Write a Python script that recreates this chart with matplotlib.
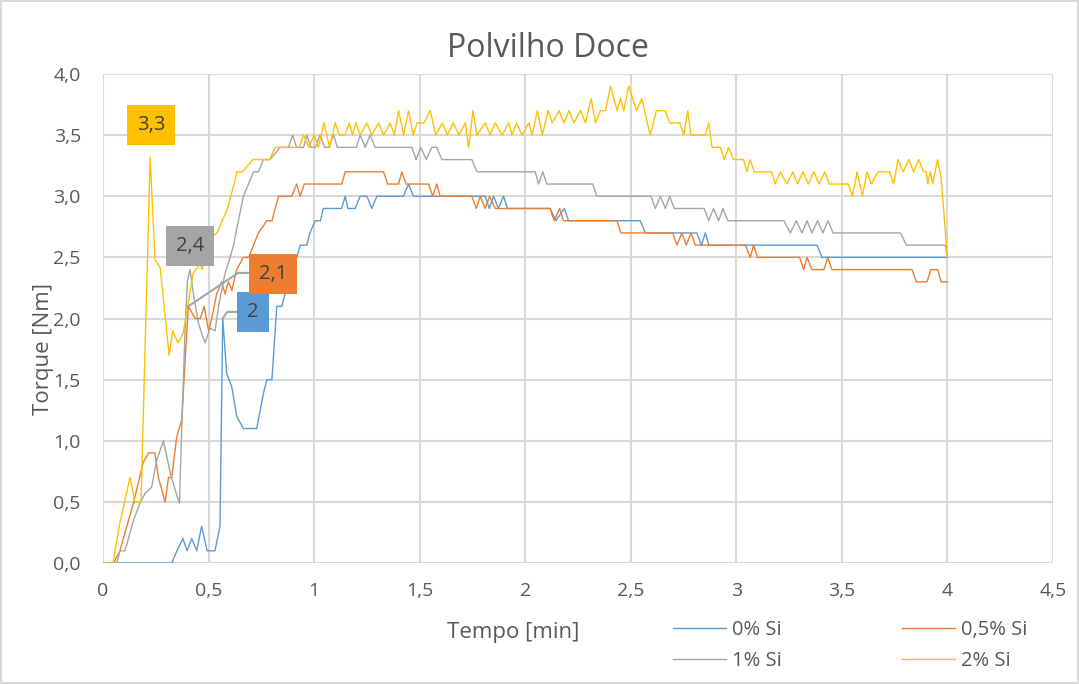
import matplotlib.pyplot as plt
from matplotlib.ticker import FuncFormatter, MultipleLocator

# (tempo [min], torque [Nm])
si_0 = [(0, 0), (0.326, 0), (0.35, 0.1), (0.378, 0.2), (0.398, 0.1), (0.42, 0.2), (0.444, 0.1),
        (0.467, 0.3), (0.493, 0.1), (0.53, 0.1), (0.554, 0.3), (0.567, 2.0), (0.586, 1.55),
        (0.61, 1.44), (0.633, 1.2), (0.665, 1.1), (0.728, 1.1), (0.76, 1.39), (0.776, 1.5),
        (0.80, 1.5), (0.823, 2.1), (0.847, 2.1), (0.862, 2.2), (0.885, 2.3), (0.90, 2.4),
        (0.918, 2.5), (0.934, 2.6), (0.965, 2.6), (0.98, 2.7), (1.005, 2.8), (1.03, 2.8),
        (1.043, 2.9), (1.13, 2.9), (1.147, 3.0), (1.16, 2.9), (1.194, 2.9), (1.218, 3.0),
        (1.25, 3.0), (1.273, 2.9), (1.297, 3.0), (1.423, 3.0), (1.447, 3.1), (1.47, 3.0),
        (1.81, 3.0), (1.83, 2.9), (1.85, 3.0), (1.873, 2.9), (1.897, 3.0), (1.916, 2.9),
        (2.118, 2.9), (2.145, 2.8), (2.185, 2.9), (2.205, 2.8), (2.545, 2.8), (2.569, 2.7),
        (2.813, 2.7), (2.835, 2.6), (2.853, 2.7), (2.87, 2.6), (3.382, 2.6), (3.406, 2.5),
        (4.0, 2.5)]

si_05 = [(0, 0), (0.05, 0), (0.08, 0.1), (0.144, 0.49), (0.19, 0.82), (0.215, 0.9), (0.246, 0.9),
         (0.262, 0.7), (0.294, 0.5), (0.31, 0.7), (0.325, 0.7), (0.349, 1.03), (0.373, 1.17),
         (0.389, 1.66), (0.404, 2.1), (0.436, 2.0), (0.46, 2.0), (0.479, 2.1), (0.5, 1.9),
         (0.515, 2.0), (0.538, 2.2), (0.562, 2.3), (0.578, 2.2), (0.594, 2.3), (0.61, 2.23),
         (0.633, 2.4), (0.665, 2.5), (0.69, 2.5), (0.713, 2.6), (0.736, 2.7), (0.776, 2.8),
         (0.80, 2.8), (0.831, 3.0), (0.894, 3.0), (0.917, 3.1), (0.934, 3.0), (0.953, 3.1),
         (1.131, 3.1), (1.147, 3.2), (1.329, 3.2), (1.348, 3.1), (1.40, 3.1), (1.415, 3.2),
         (1.436, 3.1), (1.542, 3.1), (1.562, 3.0), (1.581, 3.1), (1.597, 3.0), (1.747, 3.0),
         (1.768, 2.9), (1.787, 3.0), (1.81, 2.9), (1.831, 3.0), (1.858, 2.9), (2.118, 2.9),
         (2.137, 2.8), (2.163, 2.9), (2.181, 2.8), (2.434, 2.8), (2.453, 2.7), (2.699, 2.7),
         (2.718, 2.6), (2.742, 2.7), (2.763, 2.6), (2.785, 2.7), (2.806, 2.6), (3.043, 2.6),
         (3.066, 2.5), (3.082, 2.6), (3.10, 2.5), (3.30, 2.5), (3.319, 2.4), (3.335, 2.5),
         (3.358, 2.4), (3.415, 2.4), (3.433, 2.5), (3.453, 2.4), (3.832, 2.4), (3.853, 2.3),
         (3.903, 2.3), (3.922, 2.4), (3.954, 2.4), (3.97, 2.3), (4.0, 2.3)]

si_1 = [(0, 0), (0.065, 0), (0.08, 0.1), (0.104, 0.1), (0.144, 0.35), (0.175, 0.49), (0.199, 0.57),
        (0.23, 0.62), (0.254, 0.84), (0.286, 1.0), (0.318, 0.74), (0.341, 0.6), (0.362, 0.49),
        (0.373, 1.12), (0.389, 1.93), (0.40, 2.31), (0.412, 2.4), (0.428, 2.2), (0.452, 1.96),
        (0.483, 1.8), (0.507, 1.92), (0.531, 1.9), (0.547, 2.1), (0.562, 2.23), (0.578, 2.37),
        (0.602, 2.5), (0.618, 2.6), (0.641, 2.8), (0.665, 3.0), (0.689, 3.1), (0.713, 3.2),
        (0.736, 3.2), (0.76, 3.3), (0.791, 3.3), (0.839, 3.4), (0.878, 3.4), (0.898, 3.5),
        (0.917, 3.4), (0.95, 3.4), (0.965, 3.5), (0.985, 3.4), (1.005, 3.4), (1.028, 3.5),
        (1.05, 3.4), (1.07, 3.4), (1.092, 3.5), (1.11, 3.4), (1.20, 3.4), (1.218, 3.5),
        (1.242, 3.4), (1.265, 3.5), (1.289, 3.4), (1.463, 3.4), (1.483, 3.3), (1.505, 3.4),
        (1.531, 3.3), (1.557, 3.4), (1.581, 3.4), (1.605, 3.3), (1.747, 3.3), (1.771, 3.2),
        (2.047, 3.2), (2.063, 3.1), (2.083, 3.2), (2.102, 3.1), (2.32, 3.1), (2.339, 3.0),
        (2.596, 3.0), (2.616, 2.9), (2.64, 3.0), (2.664, 2.9), (2.684, 3.0), (2.706, 2.9),
        (2.848, 2.9), (2.869, 2.8), (2.892, 2.9), (2.916, 2.8), (2.937, 2.9), (2.96, 2.8),
        (3.225, 2.8), (3.256, 2.7), (3.284, 2.8), (3.311, 2.7), (3.335, 2.8), (3.358, 2.7),
        (3.385, 2.8), (3.41, 2.7), (3.434, 2.8), (3.458, 2.7), (3.777, 2.7), (3.806, 2.6),
        (3.99, 2.6), (4.0, 2.5)]

si_2 = [(0, 0), (0.047, 0), (0.08, 0.33), (0.128, 0.7), (0.15, 0.5), (0.18, 0.5), (0.223, 3.32),
        (0.246, 2.48), (0.27, 2.42), (0.313, 1.7), (0.33, 1.9), (0.355, 1.8), (0.38, 1.88),
        (0.427, 2.37), (0.46, 2.45), (0.47, 2.4), (0.49, 2.64), (0.54, 2.7), (0.59, 2.9),
        (0.635, 3.2), (0.66, 3.2), (0.71, 3.3), (0.79, 3.3), (0.815, 3.4), (0.93, 3.4),
        (0.95, 3.5), (0.975, 3.4), (1.0, 3.5), (1.02, 3.4), (1.047, 3.6), (1.073, 3.4),
        (1.10, 3.6), (1.12, 3.5), (1.145, 3.5), (1.167, 3.6), (1.182, 3.5), (1.198, 3.6),
        (1.218, 3.5), (1.25, 3.6), (1.273, 3.5), (1.305, 3.6), (1.329, 3.5), (1.36, 3.6),
        (1.38, 3.5), (1.40, 3.7), (1.424, 3.5), (1.447, 3.7), (1.47, 3.5), (1.488, 3.6),
        (1.52, 3.6), (1.55, 3.7), (1.576, 3.5), (1.607, 3.6), (1.631, 3.5), (1.659, 3.6),
        (1.686, 3.5), (1.716, 3.6), (1.732, 3.4), (1.752, 3.7), (1.771, 3.5), (1.811, 3.6),
        (1.834, 3.5), (1.858, 3.6), (1.89, 3.5), (1.922, 3.6), (1.937, 3.5), (1.958, 3.6),
        (1.985, 3.5), (2.017, 3.6), (2.033, 3.5), (2.057, 3.7), (2.081, 3.5), (2.108, 3.7),
        (2.128, 3.6), (2.16, 3.7), (2.183, 3.6), (2.207, 3.7), (2.23, 3.6), (2.262, 3.7),
        (2.285, 3.6), (2.312, 3.8), (2.333, 3.6), (2.357, 3.7), (2.38, 3.7), (2.404, 3.9),
        (2.42, 3.8), (2.435, 3.7), (2.451, 3.8), (2.467, 3.7), (2.49, 3.9), (2.528, 3.7),
        (2.552, 3.8), (2.592, 3.5), (2.621, 3.7), (2.664, 3.7), (2.684, 3.6), (2.732, 3.6),
        (2.751, 3.5), (2.77, 3.7), (2.785, 3.5), (2.853, 3.5), (2.869, 3.6), (2.885, 3.4),
        (2.924, 3.4), (2.943, 3.3), (2.963, 3.4), (2.987, 3.3), (3.034, 3.3), (3.05, 3.2),
        (3.066, 3.3), (3.085, 3.2), (3.168, 3.2), (3.184, 3.1), (3.208, 3.2), (3.24, 3.1),
        (3.268, 3.2), (3.29, 3.1), (3.315, 3.2), (3.341, 3.1), (3.367, 3.2), (3.392, 3.1),
        (3.419, 3.2), (3.44, 3.1), (3.53, 3.1), (3.55, 3.0), (3.572, 3.2), (3.597, 3.0),
        (3.619, 3.2), (3.64, 3.1), (3.671, 3.2), (3.726, 3.2), (3.745, 3.1), (3.766, 3.3),
        (3.79, 3.2), (3.817, 3.3), (3.839, 3.2), (3.864, 3.3), (3.886, 3.2), (3.90, 3.2),
        (3.907, 3.1), (3.918, 3.2), (3.93, 3.1), (3.953, 3.3), (3.97, 3.15), (4.0, 2.5)]

labels = ['0% Si', '0,5% Si', '1% Si', '2% Si']
colors = ['#5B9BD5', '#ED7D31', '#A5A5A5', '#FFC000']
series = [si_0, si_05, si_1, si_2]

# data labels: (series index, text, box position)
peak_labels = [(0, '2', (0.711, 2.05)),
               (1, '2,1', (0.806, 2.365)),
               (2, '2,4', (0.412, 2.59)),
               (3, '3,3', (0.227, 3.58))]

plt.rcParams['font.family'] = ['Open Sans', 'DejaVu Sans']
text_col = '#595959'
grid_col = '#D9D9D9'

fig = plt.figure(figsize=(10.79, 6.84), dpi=100)
fig.patch.set_edgecolor(grid_col)
fig.patch.set_linewidth(1.5)
ax = fig.add_axes([0.0955, 0.1769, 0.8804, 0.7149])

handles = []
for data, lab, col in zip(series, labels, colors):
    t = [p[0] for p in data]
    v = [p[1] for p in data]
    h, = ax.plot(t, v, color=col, lw=1.0, label=lab, zorder=3)
    handles.append(h)

ax.set_xlim(0, 4.5)
ax.set_ylim(0, 4.0)
ax.xaxis.set_major_locator(MultipleLocator(0.5))
ax.yaxis.set_major_locator(MultipleLocator(0.5))
ax.xaxis.set_major_formatter(FuncFormatter(lambda x, p: f'{x:g}'.replace('.', ',')))
ax.yaxis.set_major_formatter(FuncFormatter(lambda y, p: f'{y:.1f}'.replace('.', ',')))
ax.grid(True, color=grid_col, lw=1.5, zorder=0)
for s in ax.spines.values():
    s.set_visible(False)
ax.tick_params(length=0, labelsize=14, labelcolor=text_col)
ax.tick_params(axis='y', pad=16)
ax.tick_params(axis='x', pad=14)

fig.text(0.508, 0.929, 'Polvilho Doce', fontsize=23, color=text_col, ha='center', va='center')
fig.text(0.476, 0.075, 'Tempo [min]', fontsize=16, color=text_col, ha='center', va='center')
fig.text(0.040, 0.49, 'Torque [Nm]', fontsize=16, color=text_col, ha='center', va='center',
         rotation=90)

# data labels with coloured boxes
for i, txt, pos in peak_labels:
    bbox = dict(boxstyle='square,pad=0.5', fc=colors[i], ec='none')
    ax.text(pos[0], pos[1], txt, fontsize=14.5, color='#404040', ha='center', va='center',
            bbox=bbox, zorder=5)

# leader lines from the peaks to their labels
leader_05 = [(0.404, 2.1), (0.64, 2.373), (0.695, 2.373)]
leader_0 = [(0.567, 2.0), (0.588, 2.054), (0.645, 2.054)]
for ld in [leader_05, leader_0]:
    ax.plot([p[0] for p in ld], [p[1] for p in ld], color='#A6A6A6', lw=1.5, zorder=4)

# row-wise legend order: 0% | 0,5% / 1% | 2%
order = [0, 2, 1, 3]
fig.legend([handles[k] for k in order], [labels[k] for k in order],
           loc='lower left', bbox_to_anchor=(0.612, 0.0), ncol=2, frameon=False,
           fontsize=14.5, labelcolor=text_col, handlelength=2.6, columnspacing=6.0,
           handletextpad=0.3, borderaxespad=0.25, labelspacing=0.55)

fig.savefig('out.png', dpi=100)
